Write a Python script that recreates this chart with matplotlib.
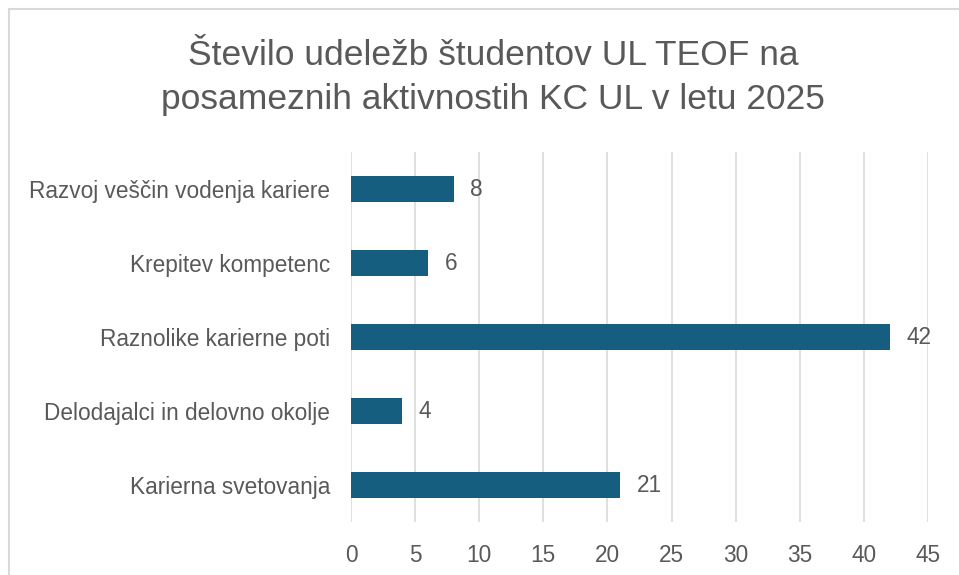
#!/usr/bin/env python3
"""Bar chart: udeležbe študentov UL TEOF na aktivnostih KC UL 2025"""
import matplotlib
matplotlib.use('Agg')
import matplotlib.pyplot as plt
from matplotlib.patches import Rectangle

# Data (top to bottom as shown)
categories = [
    "Razvoj veščin vodenja kariere",
    "Krepitev kompetenc",
    "Raznolike karierne poti",
    "Delodajalci in delovno okolje",
    "Karierna svetovanja",
]
values = [8, 6, 42, 4, 21]
x_ticks = [0, 5, 10, 15, 20, 25, 30, 35, 40, 45]
title = "Število udeležb študentov UL TEOF na\nposameznih aktivnostih KC UL v letu 2025"

bar_color = "#165e80"
text_color = "#595959"
grid_color = "#d9d9d9"

plt.rcParams['font.family'] = ['Liberation Sans', 'DejaVu Sans']

fig = plt.figure(figsize=(9.59, 5.75), dpi=100)

# outer chart frame (light gray)
fig.patches.append(Rectangle((8.5 / 959, -0.1), 1.2, 1.1 - 8.5 / 575,
                             transform=fig.transFigure, fill=False,
                             edgecolor=grid_color, linewidth=1.5))

ax = fig.add_axes([351 / 959, 53 / 575, 577 / 959, 370 / 575])

ypos = list(range(len(categories)))[::-1]
ax.barh(ypos, values, height=0.35, color=bar_color, zorder=3)

for y, v in zip(ypos, values):
    ax.text(v + 1.3, y, str(v), va='center', ha='left',
            fontsize=16.3, color=text_color)

ax.set_xlim(0, 45)
ax.set_ylim(-0.5, 4.5)
ax.set_xticks(x_ticks)
ax.set_yticks(ypos)
ax.set_yticklabels(categories)
ax.tick_params(axis='both', length=0, labelsize=16.3, labelcolor=text_color)
ax.tick_params(axis='x', pad=16)
ax.tick_params(axis='y', pad=15)
ax.xaxis.grid(True, color=grid_color, linewidth=1.2, zorder=0)
for s in ax.spines.values():
    s.set_visible(False)

fig.text(0.514, 0.933, title, ha='center', va='top', fontsize=25.5,
         color=text_color, linespacing=1.45)

plt.savefig('out.png', dpi=100)
plt.close()
